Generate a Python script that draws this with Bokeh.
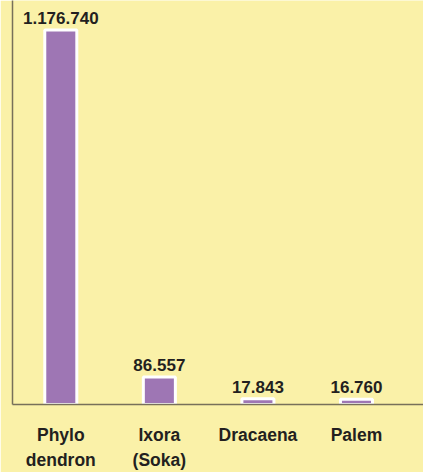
from bokeh.plotting import figure
from bokeh.models import ColumnDataSource, Range1d, FixedTicker
from bokeh.embed import file_html
from bokeh.resources import INLINE
from bokeh.core.properties import value

categories = ["Phylo\ndendron", "Ixora\n(Soka)", "Dracaena", "Palem"]
values = [1176740, 86557, 17843, 16760]
value_labels = ["1.176.740", "86.557", "17.843", "16.760"]

BG = "#faf1a8"
xs = list(range(len(categories)))
source = ColumnDataSource(dict(x=xs, val=values, lab=value_labels))

p = figure(x_range=Range1d(-0.49, 3.68),
           y_range=Range1d(0, 1269500),
           width=423, height=472, output_backend="svg", toolbar_location=None,
           min_border_left=12, min_border_right=0, min_border_top=0, min_border_bottom=62)
p.background_fill_color = BG
p.border_fill_color = BG
p.outline_line_color = None
p.grid.visible = False

p.vbar(x="x", top="val", width=0.325, source=source,
       fill_color="#9e76b4", line_color="white", line_width=3)
p.text(x="x", y="val", text="lab", source=source, y_offset=-6,
       text_align="center", text_baseline="bottom",
       text_font=value("Liberation Sans"), text_font_style="bold",
       text_font_size="17px", text_color="#231f20")

p.xaxis.ticker = FixedTicker(ticks=xs)
p.xaxis.major_label_overrides = {i: c for i, c in zip(xs, categories)}
p.xaxis.axis_line_color = "#77705a"
p.xaxis.axis_line_width = 1.5
p.xaxis.major_tick_line_color = None
p.xaxis.minor_tick_line_color = None
p.xaxis.major_label_standoff = 14
p.xaxis.major_label_text_font = "Liberation Sans"
p.xaxis.major_label_text_font_style = "bold"
p.xaxis.major_label_text_font_size = "17.5px"
p.xaxis.major_label_text_color = "#231f20"
p.xaxis.major_label_text_line_height = 1.25

p.yaxis.ticker = FixedTicker(ticks=[])
p.yaxis.axis_line_color = "#77705a"
p.yaxis.axis_line_width = 1.5
p.yaxis.major_tick_line_color = None
p.yaxis.minor_tick_line_color = None

html = file_html(p, INLINE)
html = html.replace("<body>", '<body style="background:%s">' % BG, 1)
open("out.html", "w").write(html)
